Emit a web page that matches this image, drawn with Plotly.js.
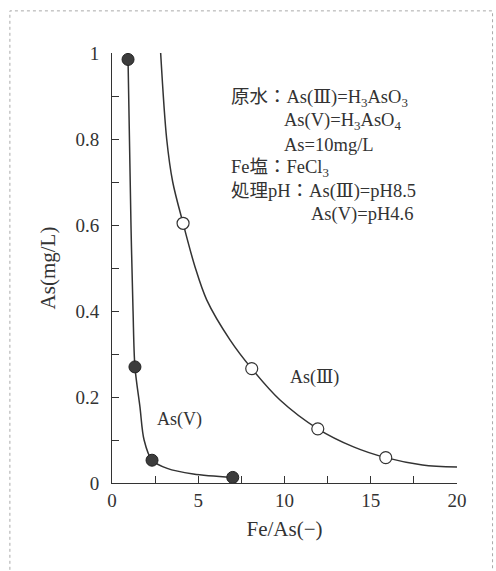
<!DOCTYPE html>
<html><head><meta charset="utf-8">
<script src="https://cdn.plot.ly/plotly-3.0.1.min.js"></script>
<style>html,body{margin:0;padding:0;background:#fff}#chart{width:496px;height:571px}</style>
</head><body><div id="chart"></div>
<script>
// Measured points
const as5X = [0.93, 1.33, 2.32, 7.0];
const as5Y = [0.985, 0.27, 0.053, 0.013];
const as3X = [4.12, 8.1, 11.93, 15.87];
const as3Y = [0.604, 0.266, 0.126, 0.059];
// Fitted curves
const as5CurveX = [0.93, 1.1, 1.22, 1.33, 1.62, 1.86, 2.32, 3.2, 4.71, 7.0];
const as5CurveY = [0.985, 0.6, 0.4, 0.27, 0.177, 0.1, 0.053, 0.034, 0.021, 0.013];
const as3CurveX = [2.82, 3.17, 3.52, 4.12, 4.81, 5.49, 6.84, 8.1, 9.74, 11.93, 14, 15.87, 18, 20];
const as3CurveY = [1.0, 0.8, 0.7, 0.604, 0.503, 0.426, 0.333, 0.266, 0.193, 0.126, 0.084, 0.059, 0.042, 0.037];
const xTicks = [0, 5, 10, 15, 20];
const yTicks = [0, 0.2, 0.4, 0.6, 0.8, 1];
const yTickText = ['0', '0.2', '0.4', '0.6', '0.8', '1'];
const noteLines = ['原水：As(Ⅲ)=H<sub>3</sub>AsO<sub>3</sub>', 'As(V)=H<sub>3</sub>AsO<sub>4</sub>', 'As=10mg/L', 'Fe塩：FeCl<sub>3</sub>', '処理pH：As(Ⅲ)=pH8.5', 'As(V)=pH4.6'];

const FONT = '"Liberation Serif", "DejaVu Serif", "Noto Sans CJK JP", serif';
const INK = '#333';

const traces = [
  {x: as3CurveX, y: as3CurveY, mode: 'lines', line: {color: INK, width: 1.5, shape: 'spline', smoothing: 0.9}, hoverinfo: 'skip'},
  {x: as5CurveX, y: as5CurveY, mode: 'lines', line: {color: INK, width: 1.5, shape: 'spline', smoothing: 0.9}, hoverinfo: 'skip'},
  {x: as3X, y: as3Y, mode: 'markers', cliponaxis: false, marker: {size: 12, color: '#fff', line: {color: INK, width: 1.2}}},
  {x: as5X, y: as5Y, mode: 'markers', cliponaxis: false, marker: {size: 12, color: '#3c3c3c', line: {color: '#222', width: 1}}}
];

// note block positions (paper coords)
const noteX = [0.339, 0.493, 0.493, 0.339, 0.339, 0.570];
const noteY = [0.895, 0.841, 0.786, 0.731, 0.679, 0.625];
const annotations = noteLines.map((t, i) => ({
  text: t, xref: 'paper', yref: 'paper', x: noteX[i], y: noteY[i],
  xanchor: 'left', yanchor: 'middle', showarrow: false,
  font: {family: FONT, size: 18.5, color: INK}
}));
annotations.push({text: 'As(Ⅲ)', xref: 'paper', yref: 'paper', x: 0.51, y: 0.245, xanchor: 'left', yanchor: 'middle', showarrow: false, font: {family: FONT, size: 18, color: INK}});
annotations.push({text: 'As(V)', xref: 'paper', yref: 'paper', x: 0.125, y: 0.147, xanchor: 'left', yanchor: 'middle', showarrow: false, font: {family: FONT, size: 18, color: INK}});

const layout = {
  width: 496, height: 571,
  margin: {l: 112, r: 39, t: 53, b: 88},
  paper_bgcolor: '#fff', plot_bgcolor: '#fff',
  showlegend: false,
  font: {family: FONT, size: 19, color: INK},
  xaxis: {
    range: [0, 20], tickvals: xTicks, ticktext: xTicks.map(String),
    ticks: 'inside', ticklen: 7, tickcolor: INK, tickwidth: 1,
    minor: {dtick: 2.5, tick0: 0, ticks: 'inside', ticklen: 7, tickcolor: INK, tickwidth: 1, showgrid: false},
    showline: true, linecolor: INK, linewidth: 1, showgrid: false, zeroline: false,
    tickfont: {family: FONT, size: 19, color: INK},
    title: {text: 'Fe/As(−)', font: {family: FONT, size: 21, color: INK}, standoff: 11}
  },
  yaxis: {
    range: [0, 1], tickvals: yTicks, ticktext: yTickText,
    ticks: 'inside', ticklen: 7, tickcolor: INK, tickwidth: 1, ticklabelstandoff: 8,
    minor: {dtick: 0.1, tick0: 0, ticks: 'inside', ticklen: 7, tickcolor: INK, tickwidth: 1, showgrid: false},
    showline: true, linecolor: INK, linewidth: 1, showgrid: false, zeroline: false,
    tickfont: {family: FONT, size: 19, color: INK},
    title: {text: 'As(mg/L)', font: {family: FONT, size: 21, color: INK}, standoff: 14}
  },
  annotations: annotations,
  shapes: [{
    type: 'rect', xref: 'paper', yref: 'paper',
    x0: -0.296, x1: 1.103, y0: -0.22, y1: 1.098,
    line: {color: '#aaa', width: 1, dash: 'dot'}
  }]
};

Plotly.newPlot('chart', traces, layout, {displayModeBar: false, staticPlot: true});
</script></body></html>
